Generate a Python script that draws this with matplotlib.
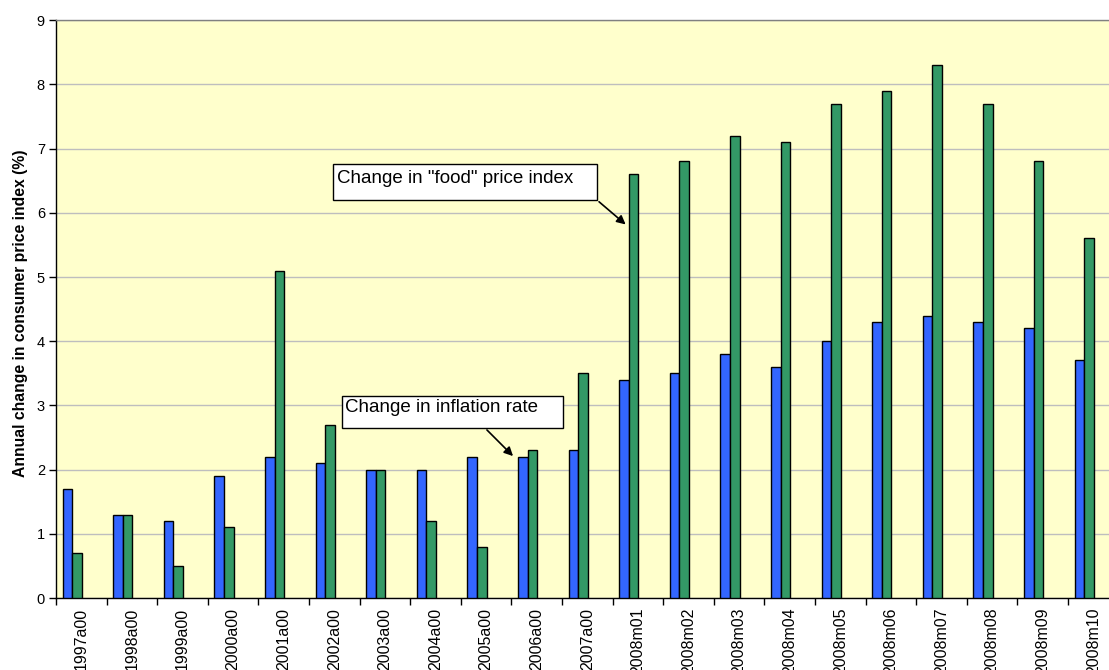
import matplotlib
matplotlib.use("Agg")
import matplotlib.pyplot as plt
from matplotlib.patches import Rectangle
import numpy as np

plt.rcParams['font.family'] = ['Liberation Sans', 'DejaVu Sans']

categories = ["1997a00", "1998a00", "1999a00", "2000a00", "2001a00", "2002a00",
              "2003a00", "2004a00", "2005a00", "2006a00", "2007a00",
              "2008m01", "2008m02", "2008m03", "2008m04", "2008m05", "2008m06",
              "2008m07", "2008m08", "2008m09", "2008m10"]
inflation = [1.7, 1.3, 1.2, 1.9, 2.2, 2.1, 2.0, 2.0, 2.2, 2.2, 2.3,
             3.4, 3.5, 3.8, 3.6, 4.0, 4.3, 4.4, 4.3, 4.2, 3.7]
food = [0.7, 1.3, 0.5, 1.1, 5.1, 2.7, 2.0, 1.2, 0.8, 2.3, 3.5,
        6.6, 6.8, 7.2, 7.1, 7.7, 7.9, 8.3, 7.7, 6.8, 5.6]

W, H = 1109, 670
fig = plt.figure(figsize=(W / 100, H / 100), dpi=100)
fig.patch.set_facecolor('white')
ax = fig.add_axes([56 / W, (670 - 598) / H, 1062.6 / W, 577.8 / H])
ax.set_facecolor('#FFFFCC')

x = np.arange(len(categories))
bw = 0.19
ax.bar(x - 0.275, inflation, width=bw, color='#3366FF', edgecolor='black', linewidth=1.0, zorder=3)
ax.bar(x - 0.085, food, width=bw, color='#339966', edgecolor='black', linewidth=1.0, zorder=3)

ax.set_xlim(-0.5, len(categories) - 0.5)
ax.set_ylim(0, 9)
ax.set_yticks(range(0, 10))
ax.yaxis.grid(True, color='#BEBEBE', linewidth=1.0, zorder=0)
ax.set_axisbelow(True)

ax.set_xticks(np.arange(-0.5, len(categories), 1.0))
ax.set_xticklabels([])
ax.set_xticks(x, minor=True)
ax.set_xticklabels(categories, minor=True, rotation=90, fontsize=11.5, va='top', ha='center')
ax.tick_params(axis='x', which='major', length=5, width=1, color='black', direction='out')
ax.tick_params(axis='x', which='minor', length=0, pad=7)
ax.tick_params(axis='y', length=5, width=1, color='black', labelsize=10.5, pad=3)

for s in ['left', 'bottom']:
    ax.spines[s].set_color('black')
    ax.spines[s].set_linewidth(1.0)
ax.spines['top'].set_color('#808080')
ax.spines['top'].set_linewidth(1.0)
ax.spines['right'].set_visible(False)

ax.set_ylabel('Annual change in consumer price index (%)', fontsize=11.3, fontweight='bold', labelpad=6)
ax.yaxis.label.set_y(0.493)

# annotation boxes
ax.add_patch(Rectangle((4.974, 6.2), 10.19 - 4.974, 6.755 - 6.2, facecolor='white',
                       edgecolor='black', linewidth=1.0, zorder=5))
ax.text(5.05, 6.54, 'Change in "food" price index', fontsize=13.5, va='center', ha='left', zorder=6)
ax.annotate('', xy=(10.80, 5.79), xytext=(10.19, 6.2),
            arrowprops=dict(arrowstyle='-|>', color='black', lw=1.2, mutation_scale=13), zorder=6)

ax.add_patch(Rectangle((5.146, 2.643), 9.526 - 5.146, 3.146 - 2.643, facecolor='white',
                       edgecolor='black', linewidth=1.0, zorder=5))
ax.text(5.215, 2.96, 'Change in inflation rate', fontsize=13.5, va='center', ha='left', zorder=6)
ax.annotate('', xy=(8.571, 2.18), xytext=(7.978, 2.648),
            arrowprops=dict(arrowstyle='-|>', color='black', lw=1.2, mutation_scale=13), zorder=6)

fig.savefig('out.png', dpi=100)
